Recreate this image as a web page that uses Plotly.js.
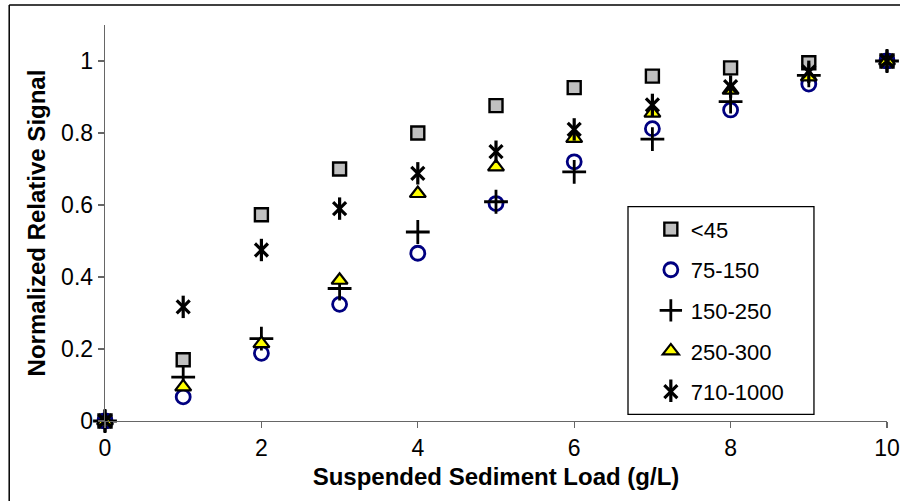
<!DOCTYPE html>
<html>
<head>
<meta charset="utf-8">
<script src="https://cdn.plot.ly/plotly-3.0.1.min.js"></script>
<style>html,body{margin:0;padding:0;background:#fff;}#chart{width:900px;height:501px;}</style>
</head>
<body>
<div id="chart"></div>
<script>
var loads = [0, 1, 2, 3, 4, 5, 6, 7, 8, 9, 10];
var seriesNames = ['<45', '75-150', '150-250', '250-300', '710-1000'];
var sLt45     = [0, 0.170, 0.573, 0.700, 0.800, 0.876, 0.926, 0.958, 0.981, 0.995, 1.0];
var s75_150   = [0, 0.067, 0.188, 0.324, 0.466, 0.604, 0.720, 0.812, 0.864, 0.936, 1.0];
var s150_250  = [0, 0.122, 0.229, 0.368, 0.525, 0.609, 0.692, 0.783, 0.887, 0.960, 1.0];
var s250_300  = [0, 0.095, 0.215, 0.391, 0.632, 0.706, 0.785, 0.855, 0.919, 0.956, 1.0];
var s710_1000 = [0, 0.317, 0.475, 0.590, 0.688, 0.748, 0.810, 0.878, 0.929, 0.970, 1.0];

var traces = [
  {x: loads, y: sLt45, name: seriesNames[0], legendgroup: 'g1',
   marker: {symbol: 'square', size: 13, color: '#c0c0c0', line: {color: '#000', width: 2.4}}},
  {x: loads, y: s75_150, name: seriesNames[1], legendgroup: 'g2',
   marker: {symbol: 'circle-open', size: 14, color: '#000080', line: {color: '#000080', width: 2.8}}},
  {x: loads, y: s150_250, name: seriesNames[2], legendgroup: 'g3',
   marker: {symbol: 'cross-thin-open', size: 17, color: '#000', line: {color: '#000', width: 2.8}}},
  {x: loads, y: s250_300, name: seriesNames[3], legendgroup: 'g4',
   marker: {symbol: 'triangle-up', size: 14, color: '#ffff00', line: {color: '#000', width: 2.2}}},
  {x: loads, y: s710_1000, name: seriesNames[4], legendgroup: 'g5',
   marker: {symbol: 'x-thin-open', size: 13, color: '#000', line: {color: '#000', width: 3.2}}},
  {x: loads, y: s710_1000, name: ' ', legend: 'legend2', legendgroup: 'g6',
   marker: {symbol: 'line-ns-open', size: 16, color: '#000', line: {color: '#000', width: 3.2}}}
];
traces.forEach(function(t){ t.type = 'scatter'; t.mode = 'markers'; t.cliponaxis = false; });

var fam = 'Liberation Sans, Arial, sans-serif';
var tickFont = {family: fam, size: 23, color: '#000'};
var legFont = {family: fam, size: 22, color: '#000'};
var layout = {
  width: 900, height: 501,
  margin: {l: 105, r: 13, t: 25, b: 80.3},
  paper_bgcolor: '#fff', plot_bgcolor: '#fff',
  font: tickFont,
  showlegend: true,
  xaxis: {
    range: [0, 10], dtick: 2, tick0: 0,
    showgrid: false, zeroline: false,
    showline: true, linecolor: '#666', linewidth: 1.3,
    ticks: 'outside', ticklen: 6, tickcolor: '#666', tickwidth: 1.3,
    tickfont: tickFont,
    title: {text: 'Suspended Sediment Load (g/L)', standoff: 8,
            font: {family: fam, size: 24, color: '#000', weight: 'bold'}}
  },
  yaxis: {
    range: [0, 1.1], dtick: 0.2, tick0: 0,
    showgrid: false, zeroline: false,
    showline: true, linecolor: '#666', linewidth: 1.3,
    ticks: 'outside', ticklen: 6, tickcolor: '#666', tickwidth: 1.3,
    tickfont: tickFont,
    title: {text: 'Normalized Relative Signal', standoff: 8,
            font: {family: fam, size: 24, color: '#000', weight: 'bold'}}
  },
  legend: {
    x: 0.698, y: 0.537, xanchor: 'left', yanchor: 'top',
    bgcolor: 'rgba(0,0,0,0)', borderwidth: 0,
    font: legFont,
    traceorder: 'grouped', tracegroupgap: 9, itemclick: false
  },
  legend2: {
    x: 0.698, y: 0.129, xanchor: 'left', yanchor: 'top',
    bgcolor: 'rgba(0,0,0,0)', borderwidth: 0,
    font: legFont
  },
  shapes: [
    {type: 'rect', xref: 'paper', yref: 'paper', x0: 0.6688, x1: 0.9066, y0: 0.0169, y1: 0.5413,
     line: {color: '#000', width: 1.3}, fillcolor: 'rgba(0,0,0,0)', layer: 'below'},
    {type: 'line', xref: 'paper', yref: 'paper', x0: -0.1225, x1: 1.1, y0: 1.0505, y1: 1.0505,
     line: {color: '#000', width: 1.5}},
    {type: 'line', xref: 'paper', yref: 'paper', x0: -0.1225, x1: -0.1225, y0: -0.3, y1: 1.0505,
     line: {color: '#000', width: 1.5}}
  ]
};

Plotly.newPlot('chart', traces, layout, {displayModeBar: false, staticPlot: true});
</script>
</body>
</html>
